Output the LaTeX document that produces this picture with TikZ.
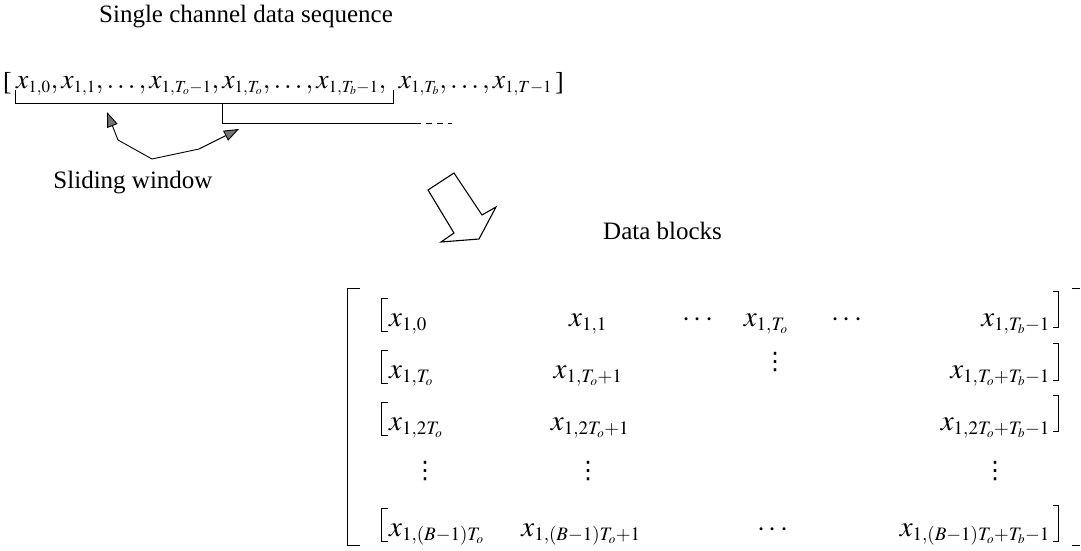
\documentclass[tikz,border=0pt]{standalone}
\usepackage{mathptmx}
\usepackage{fontspec}
\setmainfont{Liberation Serif}
\newfontfamily\lserif{Liberation Serif}
\newfontfamily\dvsans{DejaVu Sans}
\DeclareMathSizes{24}{26}{16}{11}
\DeclareMathSizes{26}{29}{19}{13}
\usetikzlibrary{arrows.meta}
\begin{document}
\begin{tikzpicture}[x=1pt,y=-1pt,
  seq/.style={inner sep=0pt, anchor=base west, font=\fontsize{24}{28}\selectfont},
  mtx/.style={inner sep=0pt, font=\fontsize{26}{30}\selectfont},
  vd/.style={inner sep=0pt, font=\dvsans\fontsize{24}{28}\selectfont},
  lbl/.style={inner sep=0pt, font=\lserif\fontsize{25}{30}\selectfont},
  ln/.style={line width=0.8pt},
  swarrow/.style={line width=0.9pt, line join=round,
    {Triangle[length=15pt,width=11pt,fill=black!55]}-{Triangle[length=15pt,width=11pt,fill=black!55]}},
  blockarrow/.style={line width=1.1pt, line join=miter, fill=white}]
\useasboundingbox (0,0) rectangle (1081,551);

% title
\node[lbl] (title) at (246,17) {Single channel data sequence};

% sequence
\node[seq] (lb) at (3,90) {\lserif\fontsize{26}{28}\selectfont[};
\node[seq] (sq) at (16,88) {\resizebox{536pt}{!}{$x_{1,0}, x_{1,1}, \ldots, x_{1,T_o-1}, x_{1,T_o}, \ldots, x_{1,T_b-1},\hspace{9pt} x_{1,T_b}, \ldots, x_{1,T-1}$}};
\node[seq] (rb) at (555,90) {\lserif\fontsize{26}{28}\selectfont]};

% window brackets
\coordinate (w1a) at (15,90);
\coordinate (w1b) at (393,90);
\draw[ln] (w1a) -- (15,103) -- (393,103) -- (w1b);
\coordinate (w2a) at (222,103);
\coordinate (w2b) at (415,123);
\coordinate (w2c) at (452,123);
\draw[ln] (w2a) -- (222,123) -- (w2b);
\draw[ln, dash pattern=on 6pt off 5pt] (w2b) -- (w2c);

% sliding window arrow
\coordinate (tipL) at (107,112);
\coordinate (p1) at (118,140);
\coordinate (p2) at (152,159);
\coordinate (p3) at (199,149);
\coordinate (tipR) at (239,129);
\draw[swarrow] (tipL) -- (p1) -- (p2) -- (p3) -- (tipR);
\node[lbl] (sw) at (133,183) {Sliding window};

% block arrow
\draw[blockarrow] (428,190) -- (454,173) -- (482,215) -- (496,207) -- (479,239) -- (441,242) -- (454,233) -- cycle;

\node[lbl, anchor=west] (db) at (603,231) {Data blocks};

% outer brackets
\draw[ln] (360,288) -- (347,288) -- (347,545) -- (360,545);
\draw[ln] (1072,288) -- (1080,288);
\draw[ln] (1072,545) -- (1080,545);

% row brackets
\foreach \t/\b in {298/331, 350/383, 402/435, 508/541}{
  \draw[ln] (388,\t) -- (381,\t) -- (381,\b) -- (388,\b);
}
\foreach \t/\b in {291/327, 343/380, 395/431, 505/541}{
  \draw[ln] (1053,\t) -- (1058,\t) -- (1058,\b) -- (1053,\b);
}

% row 1
\node[mtx, anchor=base west] (a10) at (389,326) {$x_{1,0}$};
\node[mtx, anchor=base] (a11) at (588,326) {$x_{1,1}$};
\node[mtx, anchor=base] (a1d) at (698,326) {$\cdots$};
\node[mtx, anchor=base] (a1T) at (766,326) {$x_{1,T_o}$};
\node[mtx, anchor=base] (a1e) at (847,326) {$\cdots$};
\node[mtx, anchor=base east] (a1L) at (1050,326) {$x_{1,T_b-1}$};
% row 2
\node[mtx, anchor=base west] (a20) at (389,378) {$x_{1,T_o}$};
\node[mtx, anchor=base] (a21) at (588,378) {$x_{1,T_o+1}$};
\node[vd] (a2v) at (775,362) {⋮};
\node[mtx, anchor=base east] (a2L) at (1050,378) {$x_{1,T_o+T_b-1}$};
% row 3
\node[mtx, anchor=base west] (a30) at (389,430) {$x_{1,2T_o}$};
\node[mtx, anchor=base] (a31) at (590,430) {$x_{1,2T_o+1}$};
\node[mtx, anchor=base east] (a3L) at (1050,430) {$x_{1,2T_o+T_b-1}$};
% vdots row
\node[vd] (v1) at (425,471) {⋮};
\node[vd] (v2) at (588,471) {⋮};
\node[vd] (v3) at (995,471) {⋮};
% row 5
\node[mtx, anchor=base west] (a50) at (389,536) {$x_{1,(B-1)T_o}$};
\node[mtx, anchor=base] (a51) at (581,536) {$x_{1,(B-1)T_o+1}$};
\node[mtx, anchor=base] (a5d) at (773,536) {$\cdots$};
\node[mtx, anchor=base east] (a5L) at (1050,536) {$x_{1,(B-1)T_o+T_b-1}$};
\end{tikzpicture}
\end{document}
